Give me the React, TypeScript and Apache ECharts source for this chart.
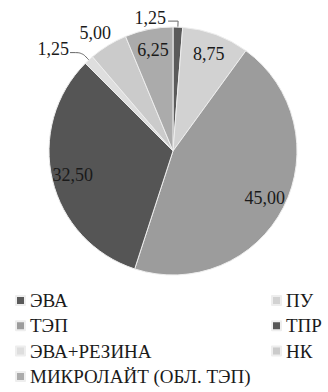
import React, { useEffect, useRef } from "react";
import * as echarts from "echarts";

const categories = ["ЭВА", "ПУ", "ТЭП", "ТПР", "ЭВА+РЕЗИНА", "НК", "МИКРОЛАЙТ (ОБЛ. ТЭП)"];
const values = [1.25, 8.75, 45.0, 32.5, 1.25, 5.0, 6.25];
const colors = ["#5a5a5a", "#d2d2d2", "#9c9c9c", "#555555", "#dedede", "#cbcbcb", "#ababab"];
const insideLabel = [false, true, true, true, false, false, true];
const leftLegend = ["ЭВА", "ТЭП", "ЭВА+РЕЗИНА", "МИКРОЛАЙТ (ОБЛ. ТЭП)"];
const rightLegend = ["ПУ", "ТПР", "НК"];

const FONT = "Liberation Serif";
const fmt = (v: number) => v.toFixed(2).replace(".", ",");

export default function App() {
  const ref = useRef<HTMLDivElement>(null);
  useEffect(() => {
    if (!ref.current) return;
    document.body.style.margin = "0";
    const chart = echarts.init(ref.current, undefined, { renderer: "svg" });
    const legendCommon = {
      orient: "vertical" as const,
      icon: "rect",
      itemWidth: 9,
      itemHeight: 9,
      itemGap: 6.3,
      top: 286,
      height: 110,
      textStyle: { fontFamily: FONT, fontSize: 19, color: "#1a1a1a", lineHeight: 19 },
      selectedMode: false,
    };
    chart.setOption({
      animation: false,
      backgroundColor: "#fff",
      color: colors,
      legend: [
        { ...legendCommon, left: 10, data: leftLegend },
        { ...legendCommon, left: 266, data: rightLegend },
      ],
      series: [
        {
          type: "pie",
          center: [173, 151],
          radius: [0, 124],
          startAngle: 90,
          clockwise: true,
          avoidLabelOverlap: false,
          itemStyle: { borderColor: "#eeeeee", borderWidth: 1 },
          label: { show: false },
          labelLine: { show: false },
          labelLayout: (p: any) => {
            if (p.seriesIndex !== 0 || !p.labelLinePoints) return {};
            const pts = p.labelLinePoints;
            if (p.dataIndex === 0) {
              const bend = pts[1];
              const endX = bend[0] - 10;
              return {
                x: endX - 2,
                y: bend[1] - 3,
                align: "right",
                verticalAlign: "middle",
                labelLinePoints: [pts[0], bend, [endX, bend[1]]],
              };
            }
            if (p.dataIndex === 5) {
              return { dx: 21, dy: -7 };
            }
            if (p.dataIndex === 4) {
              return { dx: 4, dy: -4 };
            }
            return {};
          },
          data: categories.map((c, i) => ({
            name: c,
            value: values[i],
            label: insideLabel[i]
              ? { show: false }
              : {
                  show: true,
                  position: "outside",
                  formatter: () => fmt(values[i]),
                  fontFamily: FONT,
                  fontSize: 18,
                  color: "#1a1a1a",
                },
            labelLine: insideLabel[i]
              ? { show: false }
              : {
                  show: i !== 5,
                  length: i === 4 ? 10 : 6,
                  length2: i === 4 ? 12 : 10,
                  smooth: i === 4,
                  lineStyle: { color: "#666", width: 1 },
                },
          })),
        },
        {
          type: "pie",
          center: [173, 151],
          radius: [76, 124],
          startAngle: 90,
          clockwise: true,
          silent: true,
          legendHoverLink: false,
          itemStyle: { color: "transparent" },
          label: {
            show: true,
            position: "inside",
            fontFamily: FONT,
            fontSize: 18,
            color: "#1a1a1a",
          },
          labelLine: { show: false },
          data: categories.map((c, i) => ({
            name: c + " ",
            value: values[i],
            label: insideLabel[i] ? { formatter: () => fmt(values[i]) } : { show: false },
          })),
        },
      ],
    });
    return () => chart.dispose();
  }, []);
  return <div ref={ref} style={{ width: 328, height: 392 }} />;
}
